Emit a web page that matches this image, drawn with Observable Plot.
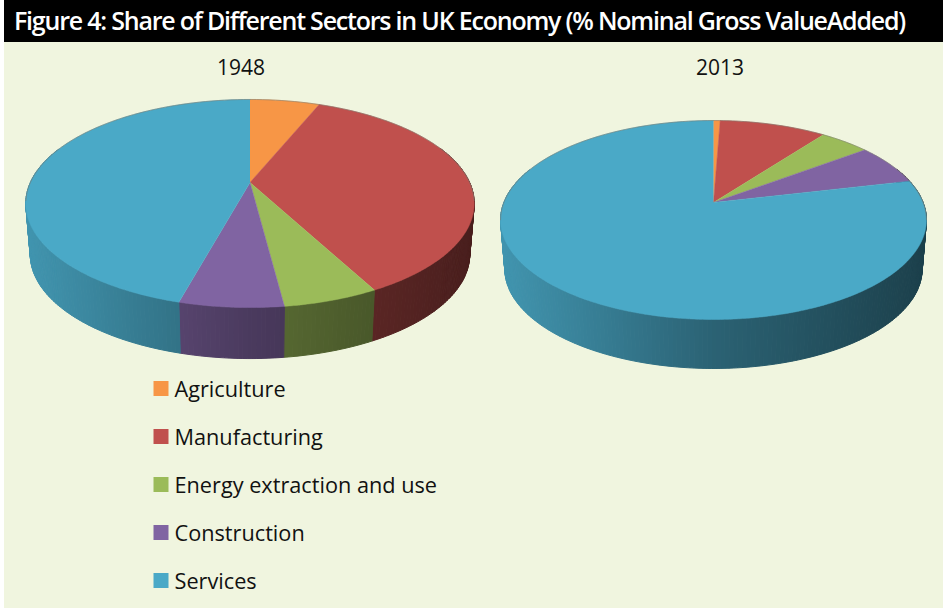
<!DOCTYPE html>
<html>
<head>
<meta charset="utf-8">
<script src="https://cdn.jsdelivr.net/npm/d3@7"></script>
<script src="https://cdn.jsdelivr.net/npm/@observablehq/plot@0.6"></script>
<style>
  html, body { margin: 0; padding: 0; background: #fff; }
  #page { margin-left: 4px; width: 939px; height: 608px; background: #f0f5df; overflow: hidden; }
  #title { height: 42px; background: #000; color: #fff; padding-left: 10px; white-space: nowrap;
           font: 600 25px/41px "Open Sans", sans-serif; letter-spacing: -1.21px; }
  #pies { display: flex; height: 330px; }
  svg { display: block; }
</style>
</head>
<body>
<div id="page">
  <div id="title">Figure 4: Share of Different Sectors in UK Economy (% Nominal Gross ValueAdded)</div>
  <div id="pies"></div>
  <div id="legend"></div>
</div>
<script>
// Sector shares of nominal gross value added, per cent.
const sectors = ["Agriculture", "Manufacturing", "Energy extraction and use", "Construction", "Services"];
const sectorColors = ["#f79646", "#c0504d", "#9bbb59", "#8064a2", "#4aa9c7"];
const shares1948 = [6.1, 36.2, 5.7, 6.2, 45.8];
const shares2013 = [0.6, 9.6, 4.5, 6.6, 78.7];

const colorOf = new Map(sectors.map((s, i) => [s, sectorColors[i]]));
const fontFamily = '"Open Sans", sans-serif';

// Rim shading: the light falls from the left, so the wall darkens to the right.
const rimShade = d3.scaleLinear().domain([-1, 0, 1]).range([0.88, 0.58, 0.38]);
const shaded = (color, f) => {
  const c = d3.rgb(color);
  return d3.rgb(c.r * f, c.g * f, c.b * f).formatHex();
};

// Draws one tilted disc. Positions on the unit circle go through a perspective
// divide, and the x and y scales turn the projected units into pixels.
function pie({year, shares, width, height, apexX, apexY, a, b, k, depth, labelDx}) {
  const project = (deg) => {
    const t = deg * Math.PI / 180, u = Math.sin(t), v = -Math.cos(t), w = 1 - k * v;
    return {x: u / w, y: v / w, v};
  };
  const floor = (p) => ({x: p.x * 0.98, y: p.y + depth / b});

  const slices = [], walls = [], rim = [];
  let start = 0;
  shares.forEach((share, i) => {
    const end = start + share * 3.6;
    const steps = Math.max(2, Math.ceil(end - start));
    const angle = (j) => start + (end - start) * j / steps;
    slices.push({x: 0, y: 0, sector: sectors[i]});
    for (let j = 0; j <= steps; ++j) slices.push({...project(angle(j)), sector: sectors[i]});
    for (let j = 0; j < steps; ++j) {
      const p0 = project(angle(j)), p1 = project(angle(j + 1));
      if (Math.max(p0.v, p1.v) < -0.35) continue;
      const id = `${i}-${j}`;
      const fill = shaded(sectorColors[i], rimShade((p0.x + p1.x) / 2 * Math.sqrt(1 - k * k)));
      // Closed quad, so its stroke seals the seam against the neighbouring one.
      for (const p of [p0, p1, floor(p1), floor(p0), p0]) walls.push({x: p.x, y: p.y, id, fill});
    }
    start = end;
  });
  for (let deg = -100; deg <= 100; deg += 2) rim.push(project(deg));

  return Plot.plot({
    width, height, margin: 0, axis: null,
    style: {background: "transparent"},
    x: {domain: [-apexX / a, (width - apexX) / a], range: [0, width]},
    y: {domain: [-apexY / b, (height - apexY) / b], range: [0, height]},
    color: {type: "identity"},
    marks: [
      Plot.line(walls, {x: "x", y: "y", z: "id", fill: "fill", stroke: "fill", strokeWidth: 1}),
      Plot.line(slices, {x: "x", y: "y", z: "sector", fill: (d) => colorOf.get(d.sector), stroke: (d) => colorOf.get(d.sector), strokeWidth: 0.5}),
      Plot.line(rim, {x: "x", y: "y", stroke: "#7a7a70", strokeOpacity: 0.55, strokeWidth: 1}),
      Plot.text([year], {frameAnchor: "top", dx: labelDx, dy: 18, fontSize: 21, fontFamily, fill: "#111"})
    ]
  });
}

const pies = document.getElementById("pies");
pies.append(pie({year: "1948", shares: shares1948, width: 483, height: 330,
  apexX: 245.5, apexY: 140, a: 219.6, b: 99.8, k: 0.202, depth: 51, labelDx: -5}));
pies.append(pie({year: "2013", shares: shares2013, width: 456, height: 330,
  apexX: 226, apexY: 160, a: 209.6, b: 96.4, k: 0.176, depth: 49, labelDx: 4.5}));

// Legend column of square swatches with their sector names.
document.getElementById("legend").append(Plot.plot({
  width: 939, height: 236, margin: 0, axis: null,
  style: {background: "transparent"},
  y: {type: "point", domain: sectors, range: [16, 208.5], padding: 0},
  color: {domain: sectors, range: sectorColors},
  marks: [
    Plot.dot(sectors, {y: (d) => d, fill: (d) => d, symbol: "square", r: 8.46, frameAnchor: "left", dx: 156.5}),
    Plot.text(sectors, {y: (d) => d, text: (d) => d, frameAnchor: "left", textAnchor: "start", dx: 170, dy: 1.5, fontSize: 21.7, fontFamily, fill: "#111"})
  ]
}));
</script>
</body>
</html>
